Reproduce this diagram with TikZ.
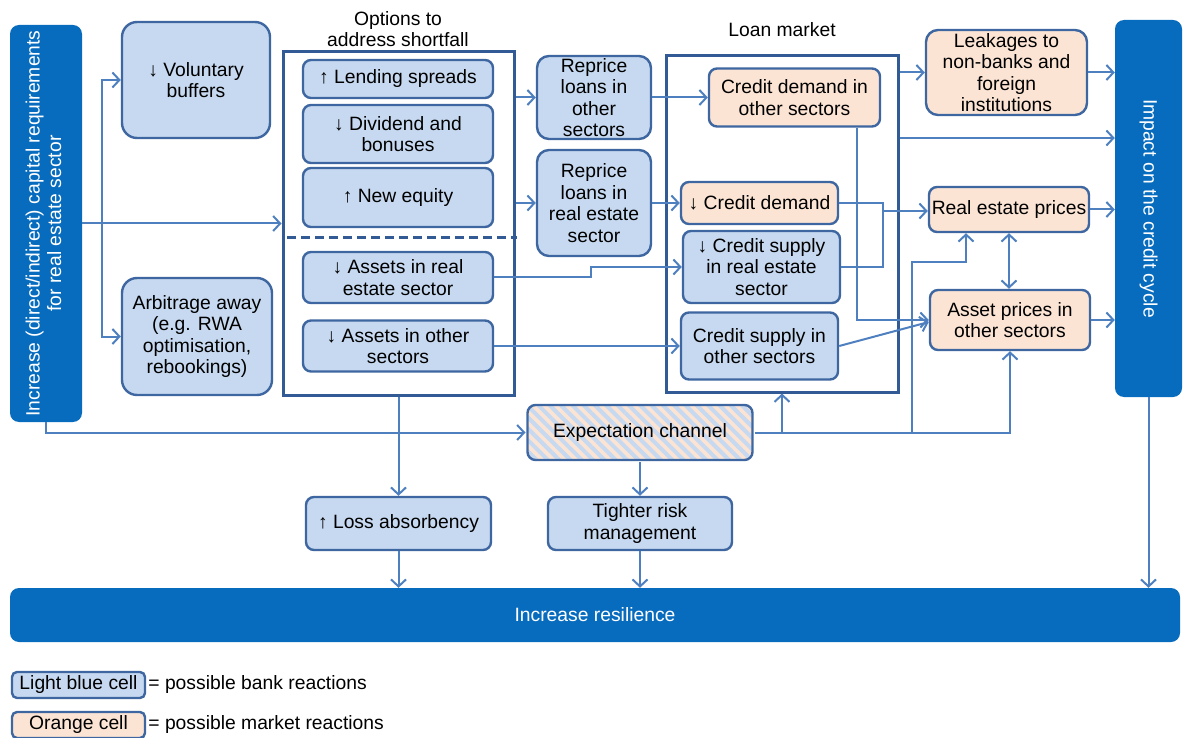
\documentclass[tikz,border=0pt]{standalone}
\usepackage{fontspec}
\setmainfont{Liberation Sans}
\usepackage{graphicx}
\usetikzlibrary{arrows.meta, patterns.meta}

\definecolor{barblue}{RGB}{8,108,190}
\definecolor{cellblue}{RGB}{198,217,240}
\definecolor{cellorange}{RGB}{251,228,212}
\definecolor{edgeblue}{RGB}{62,102,160}
\definecolor{flowblue}{RGB}{78,128,192}
\definecolor{groupblue}{RGB}{50,90,148}

\begin{document}
\begin{tikzpicture}[x=1pt, y=-1pt,
  every node/.style={font=\fontsize{19.3}{21.5}\selectfont, align=center, inner sep=2pt},
  bankcell/.style={draw=edgeblue, line width=2.4pt, fill=cellblue, rounded corners=8pt},
  marketcell/.style={draw=edgeblue, line width=2.4pt, fill=cellorange, rounded corners=8pt},
  darkbar/.style={fill=barblue, rounded corners=9pt, text=white},
  groupbox/.style={draw=groupblue, line width=3pt},
  flow/.style={draw=flowblue, line width=2pt, -{Straight Barb[length=7pt,width=15pt]}},
  link/.style={draw=flowblue, line width=2pt}]
  \useasboundingbox (0,0) rectangle (1184,738);

  % Start and end bars
  \node[darkbar, minimum width=72pt, minimum height=397pt] (lbar) at (46,223.5)
    {\rotatebox{90}{\begin{tabular}{@{}c@{}}Increase (direct/indirect) capital requirements\\for real estate sector\end{tabular}}};
  \node[darkbar, minimum width=67pt, minimum height=377pt] (impact) at (1148.5,208.5)
    {\rotatebox{-90}{Impact on the credit cycle}};
  \node[darkbar, minimum width=1170pt, minimum height=54pt] (resil) at (595,615) {Increase resilience};

  % First reactions
  \node[bankcell, rounded corners=15pt, minimum width=148pt, minimum height=116pt] (vbuf) at (196,80) {↓ Voluntary\\buffers};
  \node[bankcell, rounded corners=15pt, minimum width=150pt, minimum height=117pt] (arb) at (197,336.5) {Arbitrage away\\(e.g. RWA\\optimisation,\\rebookings)};

  % Options to address shortfall
  \node[groupbox, minimum width=231pt, minimum height=343pt] (opts) at (398.5,223.5) {};
  \node (optstitle) at (398,29) {Options to\\address shortfall};
  \node[bankcell, minimum width=190pt, minimum height=38pt] (lend) at (398,79) {↑ Lending spreads};
  \node[bankcell, minimum width=190pt, minimum height=58pt] (divd) at (398,134) {↓ Dividend and\\bonuses};
  \node[bankcell, minimum width=190pt, minimum height=59pt] (equity) at (398,197.5) {↑ New equity};
  \node[bankcell, minimum width=190pt, minimum height=51pt] (assre) at (398,277.5) {↓ Assets in real\\estate sector};
  \node[bankcell, minimum width=190pt, minimum height=51pt] (assot) at (398,346) {↓ Assets in other\\sectors};
  \draw[groupblue, line width=3pt, dash pattern=on 9pt off 5pt] (287,238) -- (517,238);

  % Repricing
  \node[bankcell, rounded corners=12pt, minimum width=114pt, minimum height=83pt] (repo) at (594,97.5) {Reprice\\loans in\\other\\sectors};
  \node[bankcell, rounded corners=12pt, minimum width=114pt, minimum height=106pt] (repre) at (594,203) {Reprice\\loans in\\real estate\\sector};

  % Loan market
  \node[groupbox, minimum width=232pt, minimum height=336pt] (loan) at (782,224) {};
  \node (loantitle) at (782,30) {Loan market};
  \node[marketcell, minimum width=171pt, minimum height=58pt] (cdo) at (794.5,97.5) {Credit demand in\\other sectors};
  \node[marketcell, minimum width=157pt, minimum height=42pt] (cd) at (759.5,203) {↓ Credit demand};
  \node[bankcell, minimum width=157pt, minimum height=72pt] (csre) at (761.5,267) {↓ Credit supply\\in real estate\\sector};
  \node[bankcell, minimum width=157pt, minimum height=67pt] (cso) at (759.5,346) {Credit supply in\\other sectors};

  % Market reactions
  \node[marketcell, rounded corners=12pt, minimum width=161pt, minimum height=85pt] (leak) at (1006.5,72.5) {Leakages to\\non-banks and\\foreign\\institutions};
  \node[marketcell, minimum width=160pt, minimum height=45pt] (rep) at (1009,209.5) {Real estate prices};
  \node[marketcell, minimum width=160pt, minimum height=60pt] (apo) at (1010,320) {Asset prices in\\other sectors};

  % Lower row
  \node[draw=edgeblue, line width=2.4pt, rounded corners=8pt, preaction={fill=cellorange},
    pattern={Lines[angle=-45,distance=8pt,line width=4pt]}, pattern color=cellblue,
    minimum width=225pt, minimum height=55pt] (expc) at (640,432.5) {Expectation channel};
  \node[bankcell, minimum width=185pt, minimum height=53pt] (loss) at (398.5,523.5) {↑ Loss absorbency};
  \node[bankcell, minimum width=184pt, minimum height=53pt] (tight) at (640,523.5) {Tighter risk\\management};

  % Legend
  \node[bankcell, rounded corners=5pt, minimum width=133pt, minimum height=26pt] (lgb) at (78.5,685) {Light blue cell};
  \node[anchor=west] (lgbtxt) at (lgb.east) {= possible bank reactions};
  \node[marketcell, rounded corners=5pt, minimum width=133pt, minimum height=26pt] (lgo) at (78.5,725) {Orange cell};
  \node[anchor=west] (lgotxt) at (lgo.east) {= possible market reactions};

  % Arrows
  \coordinate (split) at (102,223.5);
  \draw[flow] (lbar.east) -- (opts.west);
  \draw[flow] (split) |- (vbuf.west);
  \draw[flow] (split) |- (arb.west);
  \draw[flow] (lbar.south) |- (expc.west);

  \draw[flow] (opts.east |- repo) -- (repo.west);
  \draw[flow] (opts.east |- repre) -- (repre.west);
  \draw[flow] (repo.east) -- (cdo.west);
  \draw[flow] (repre.east) -- (cd.west);
  \draw[flow] (assre.east) -- ++(97,0) |- (csre.west);
  \draw[flow] (assot.east) -- (cso.west);

  \draw[flow] (loan.east |- leak.west) -- (leak.west);
  \draw[flow] (leak.east) -- (impact.west |- leak.east);
  \coordinate (lmout) at ([yshift=86pt]loan.east);
  \draw[flow] (lmout) -- (lmout -| impact.west);

  \coordinate (jn) at (883,211);
  \draw[link] (cd.east) -| (jn);
  \draw[link] (csre.east) -| (jn);
  \draw[flow] (jn) -- (rep.west |- jn);
  \draw[flow] ([xshift=62pt]cdo.south) |- (apo.west);
  \draw[flow] (cso.east) -- ([yshift=-2pt]apo.west);
  \draw[flow, {Straight Barb[length=7pt,width=15pt]}-{Straight Barb[length=7pt,width=15pt]}] (rep.south) -- (rep.south |- apo.north);
  \draw[flow] (rep.east) -- (impact.west |- rep.east);
  \draw[flow] (apo.east) -- (impact.west |- apo.east);

  \coordinate (ebr) at (912,432.5);
  \draw[flow] (expc.east) -| (apo.south);
  \draw[flow] (expc.east -| loan.south) -- (loan.south);
  \draw[flow] (ebr) -- ++(0,-170) -| ([xshift=-43pt]rep.south);

  \draw[flow] (opts.south) -- (loss.north);
  \draw[flow] (expc.south) -- (tight.north);
  \draw[flow] (loss.south) -- (loss.south |- resil.north);
  \draw[flow] (tight.south) -- (tight.south |- resil.north);
  \draw[flow] (impact.south) -- (impact.south |- resil.north);
\end{tikzpicture}
\end{document}
